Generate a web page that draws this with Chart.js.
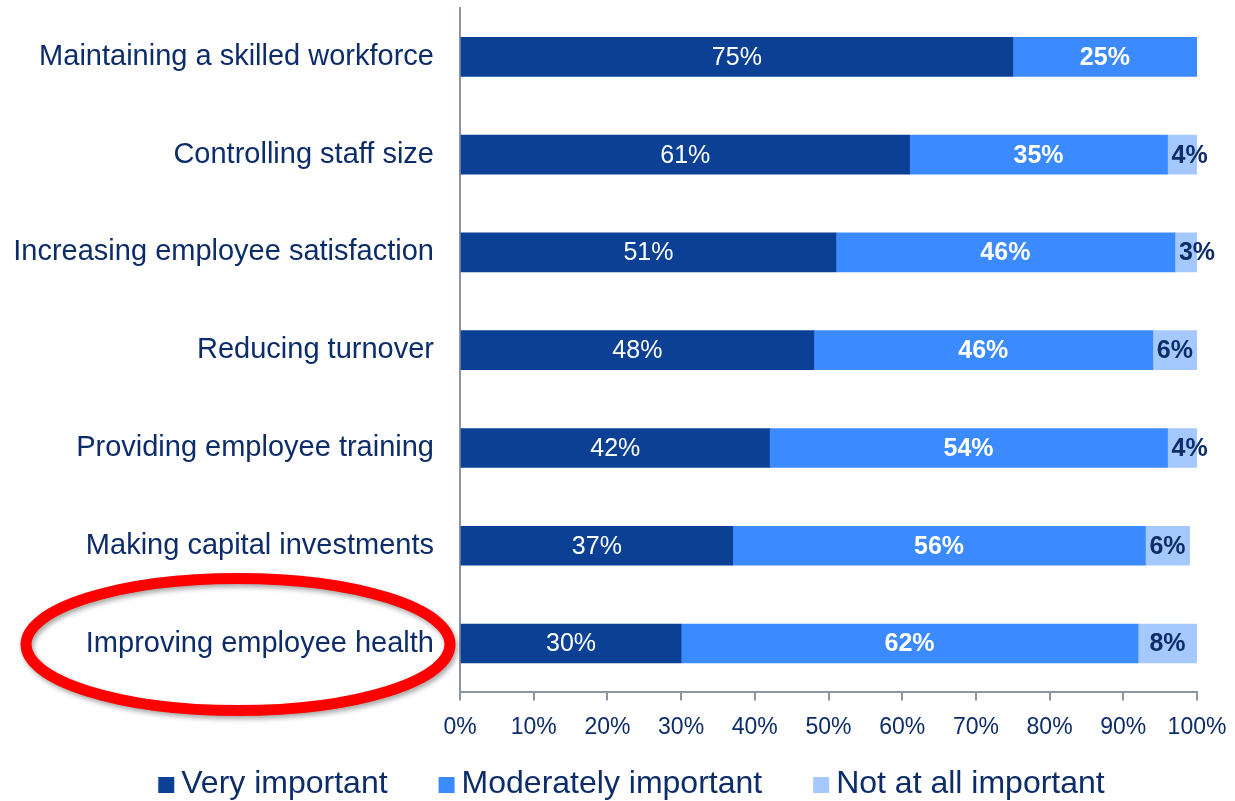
<!DOCTYPE html>
<html>
<head>
<meta charset="utf-8">
<script src="https://cdn.jsdelivr.net/npm/chart.js@4"></script>
<style>
  html, body { margin: 0; padding: 0; background: #fff; }
  #wrap { width: 1235px; height: 801px; }
</style>
</head>
<body>
<div id="wrap"><canvas id="prioritiesChart"></canvas></div>
<script>
const categories = [
    'Maintaining a skilled workforce',
    'Controlling staff size',
    'Increasing employee satisfaction',
    'Reducing turnover',
    'Providing employee training',
    'Making capital investments',
    'Improving employee health'
];
const veryImportant = [75, 61, 51, 48, 42, 37, 30];
const moderatelyImportant = [25, 35, 46, 46, 54, 56, 62];
const notImportant = [0, 4, 3, 6, 4, 6, 8];
const xTicks = [0, 10, 20, 30, 40, 50, 60, 70, 80, 90, 100];

const navy = '#0c2c6a';
const axisGrey = '#8d94a8';
const fontFamily = 'Arial, "Liberation Sans", sans-serif';

// value labels inside each segment
const segmentLabels = {
    id: 'segmentLabels',
    afterDatasetsDraw(chart) {
        const ctx = chart.ctx;
        const styles = [
            { color: '#ffffff', weight: 'normal' },
            { color: '#ffffff', weight: 'bold' },
            { color: navy, weight: 'bold' }
        ];
        ctx.save();
        ctx.textBaseline = 'middle';
        chart.data.datasets.forEach((ds, i) => {
            const meta = chart.getDatasetMeta(i);
            ctx.font = styles[i].weight + ' 25px ' + fontFamily;
            ctx.fillStyle = styles[i].color;
            meta.data.forEach((bar, j) => {
                const v = ds.data[j];
                if (!v) return;
                const text = v + '%';
                const w = ctx.measureText(text).width;
                const start = Math.min(bar.base, bar.x);
                const end = Math.max(bar.base, bar.x);
                let x = (start + end) / 2 - w / 2;
                if (w + 4 > end - start) x = start + 4;
                ctx.textAlign = 'left';
                ctx.fillText(text, x, bar.y + 1);
            });
        });
        ctx.restore();
    }
};

// legend row under the axis: small square + text, tight spacing
const bottomLegend = {
    id: 'bottomLegend',
    afterDraw(chart) {
        const ctx = chart.ctx;
        const box = 16, textGap = 7, itemGap = 51;
        const y = chart.height - 17;
        ctx.save();
        ctx.font = '32px ' + fontFamily;
        ctx.textBaseline = 'middle';
        ctx.textAlign = 'left';
        const items = chart.data.datasets.map(ds => ({
            text: ds.label,
            color: ds.backgroundColor,
            w: box + textGap + ctx.measureText(ds.label).width
        }));
        const total = items.reduce((s, it) => s + it.w, 0) + itemGap * (items.length - 1);
        let x = chart.width / 2 - total / 2 + 14;
        items.forEach(it => {
            ctx.fillStyle = it.color;
            ctx.fillRect(x, y - box / 2 + 1, box, box);
            ctx.fillStyle = navy;
            ctx.fillText(it.text, x + box + textGap, y);
            x += it.w + itemGap;
        });
        ctx.restore();
    }
};

// red ring round the last category label
const highlightRing = {
    id: 'highlightRing',
    afterDraw(chart) {
        const ctx = chart.ctx;
        const yScale = chart.scales.y;
        const cy = yScale.getPixelForValue(categories.length - 1) + 1;
        const cx = chart.chartArea.left - 222;
        ctx.save();
        ctx.shadowColor = 'rgba(0,0,0,0.35)';
        ctx.shadowBlur = 5;
        ctx.shadowOffsetX = 2;
        ctx.shadowOffsetY = 3;
        ctx.strokeStyle = '#ff0000';
        ctx.lineWidth = 11;
        ctx.beginPath();
        ctx.ellipse(cx, cy, 212, 66, 0, 0, Math.PI * 2);
        ctx.stroke();
        ctx.restore();
    }
};

const ctx = document.getElementById('prioritiesChart').getContext('2d');

const prioritiesChart = new Chart(ctx, {
    type: 'bar',
    data: {
        labels: categories,
        datasets: [
            {
                label: 'Very important',
                data: veryImportant,
                backgroundColor: '#0b4095',
                barThickness: 39
            },
            {
                label: 'Moderately important',
                data: moderatelyImportant,
                backgroundColor: '#3b8aff',
                barThickness: 39
            },
            {
                label: 'Not at all important',
                data: notImportant,
                backgroundColor: '#a5c9ff',
                barThickness: 39
            }
        ]
    },
    plugins: [segmentLabels, bottomLegend, highlightRing],
    options: {
        indexAxis: 'y',
        responsive: true,
        maintainAspectRatio: false,
        animation: false,
        layout: {
            padding: { left: 8, right: 38, top: 8, bottom: 47 }
        },
        plugins: {
            tooltip: { enabled: false },
            legend: { display: false }
        },
        scales: {
            x: {
                stacked: true,
                min: 0,
                max: 100,
                afterBuildTicks(scale) {
                    scale.ticks = xTicks.map(v => ({ value: v }));
                },
                afterFit(scale) {
                    scale.paddingLeft = 0;
                    scale.paddingRight = 0;
                },
                ticks: {
                    color: navy,
                    padding: 13,
                    maxRotation: 0,
                    font: { family: fontFamily, size: 23 },
                    callback: v => v + '%'
                },
                grid: {
                    drawOnChartArea: false,
                    drawTicks: true,
                    tickLength: 8,
                    color: axisGrey,
                    lineWidth: 2
                },
                border: { color: axisGrey, width: 2 }
            },
            y: {
                stacked: true,
                afterFit(scale) {
                    scale.width = 452;
                    scale.paddingTop = 0;
                    scale.paddingBottom = 0;
                },
                ticks: {
                    color: navy,
                    padding: 18,
                    font: { family: fontFamily, size: 29 }
                },
                grid: { display: false },
                border: { color: axisGrey, width: 2 }
            }
        }
    }
});
</script>
</body>
</html>
